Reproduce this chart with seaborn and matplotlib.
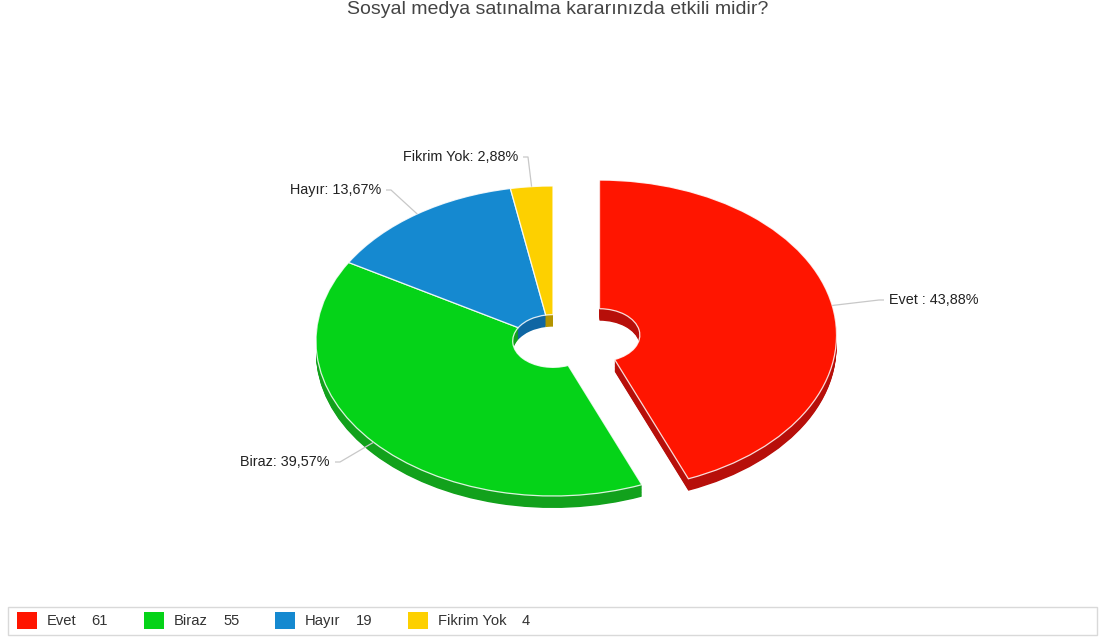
import numpy as np
import matplotlib
matplotlib.use("Agg")
import matplotlib.pyplot as plt
from matplotlib.patches import Rectangle
import seaborn as sns

sns.set_theme(style="white")
plt.rcParams['font.family'] = ['Liberation Sans', 'DejaVu Sans']

# ---- data -------------------------------------------------------------
title = "Sosyal medya satınalma kararınızda etkili midir?"
categories = ["Evet", "Biraz", "Hayır", "Fikrim Yok"]
label_names = ["Evet ", "Biraz", "Hayır", "Fikrim Yok"]
counts = [61, 55, 19, 4]

top_colors = sns.color_palette(["#ff1500", "#05d318", "#1589d0", "#fdd000"])
side_colors = sns.color_palette(["#b70f0a", "#12a11c", "#0f66a3", "#b39400"])

# ---- layout -----------------------------------------------------------
W, H = 1114, 641
cx, cy = 553, 341          # pie centre (px, from top-left)
rx, ry = 237, 155          # horizontal / vertical radius (px) -> tilted look
depth_px = 12              # thickness of the 3D rim
hole = 0.17                # inner radius as fraction of outer radius
explode = [0.2, 0, 0, 0]
# data-label text anchors (px) and alignment
label_xy = [(889, 300, "left"), (330, 462, "right"),
            (381, 190, "right"), (518, 157, "right")]

fig = plt.figure(figsize=(W / 100, H / 100), dpi=100)
fig.patch.set_facecolor("white")

ax = fig.add_axes([0, 0, 1, 1])
ax.set_facecolor("none")

# side walls: a stack of darker copies shifted downwards
n_layers = 16
depth = depth_px / ry
for k in range(n_layers, 0, -1):
    off = depth * k / n_layers
    ax.pie(counts, explode=explode, startangle=90, counterclock=False,
           colors=side_colors, center=(0, -off), radius=1,
           wedgeprops=dict(width=1 - hole, linewidth=0, edgecolor="none",
                           antialiased=True))

# top face
ax.pie(counts, explode=explode, startangle=90, counterclock=False,
       colors=top_colors, center=(0, 0), radius=1,
       wedgeprops=dict(width=1 - hole, linewidth=0.9, edgecolor=(1, 1, 1, 0.85)))

ax.set_aspect("auto")
ax.set_xlim(-cx / rx, (W - cx) / rx)
ax.set_ylim(-(H - cy) / ry, cy / ry)
ax.axis("off")

# overlay in pixel coordinates for labels, title and legend
ov = fig.add_axes([0, 0, 1, 1], zorder=5)
ov.set_xlim(0, W)
ov.set_ylim(H, 0)
ov.axis("off")
ov.patch.set_alpha(0)

ov.text(558, 10, title, ha="center", va="center", fontsize=14, color="#444444")

total = sum(counts)
fracs = [c / total for c in counts]
cum = 0.0
for name, f, ex, (tx, ty, ha) in zip(label_names, fracs, explode, label_xy):
    mid = np.deg2rad(90 - 360 * (cum + f / 2))
    cum += f
    ax_x = np.cos(mid) * (1 + ex)
    ax_y = np.sin(mid) * (1 + ex)
    px, py = cx + rx * ax_x, cy - ry * ax_y
    pct = f"{100 * f:.2f}".replace(".", ",")
    gap = 5 if ha == "left" else -5
    elbow = (tx - gap - (5 if ha == "left" else -5), ty)
    ov.plot([px, elbow[0], tx - gap], [py, ty, ty], color="#c8c8c8", lw=0.9,
            solid_capstyle="butt")
    ov.text(tx, ty, f"{name}: {pct}%", ha=ha, va="center", fontsize=10.4,
            color="#222222")

# legend box
ov.add_patch(Rectangle((8, 607), 1089, 28, facecolor="white", edgecolor="#d9d9d9",
                       lw=1, zorder=1))
fig.canvas.draw()
renderer = fig.canvas.get_renderer()
x = 17
for name, cnt, col in zip(categories, counts, top_colors):
    ov.add_patch(Rectangle((x, 612), 20, 17, facecolor=col, edgecolor="none", zorder=2))
    t1 = ov.text(x + 30, 621, name, ha="left", va="center", fontsize=10.6,
                 color="#333333", zorder=3)
    bb = t1.get_window_extent(renderer)
    x_end = x + 30 + bb.width
    t2 = ov.text(x_end + 15, 621, str(cnt), ha="left", va="center", fontsize=10.6,
                 color="#333333", zorder=3)
    bb2 = t2.get_window_extent(renderer)
    x = x_end + 15 + bb2.width + 36

fig.savefig("out.png", dpi=100, facecolor="white")
